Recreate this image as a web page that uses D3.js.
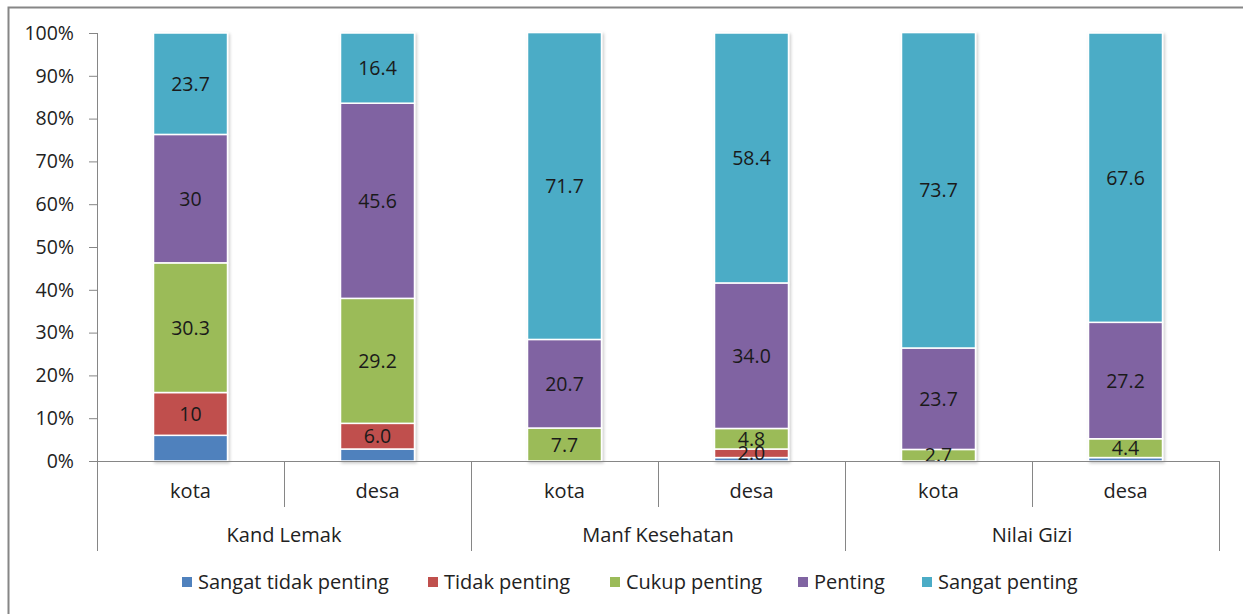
<!DOCTYPE html>
<html>
<head>
<meta charset="utf-8">
<script src="https://cdn.jsdelivr.net/npm/d3@7"></script>
<style>
body { margin: 0; background: #fff; }
svg { font-family: "Open Sans", Lato, sans-serif; }
</style>
</head>
<body>
<svg id="chart" width="1243" height="614"></svg>
<script>
// groups and sub categories on the x axis
var groups = ["Kand Lemak", "Manf Kesehatan", "Nilai Gizi"];
var subs = ["kota", "desa"];
var series = ["Sangat tidak penting", "Tidak penting", "Cukup penting", "Penting", "Sangat penting"];
var colors = ["#4F81BD", "#C0504D", "#9BBB59", "#8064A2", "#4BACC6"];

// values per series, in bar order: KL kota, KL desa, MK kota, MK desa, NG kota, NG desa
var sangatTidak = [6.0, 2.8, 0, 0.8, 0, 0.8];
var tidak = [10, 6.0, 0, 2.0, 0, 0];
var cukup = [30.3, 29.2, 7.7, 4.8, 2.7, 4.4];
var penting = [30, 45.6, 20.7, 34.0, 23.7, 27.2];
var sangat = [23.7, 16.4, 71.7, 58.4, 73.7, 67.6];

// data labels as shown (blank = no label)
var lblSangatTidak = ["", "", "", "", "", ""];
var lblTidak = ["10", "6.0", "", "2.0", "", ""];
var lblCukup = ["30.3", "29.2", "7.7", "4.8", "2.7", "4.4"];
var lblPenting = ["30", "45.6", "20.7", "34.0", "23.7", "27.2"];
var lblSangat = ["23.7", "16.4", "71.7", "58.4", "73.7", "67.6"];

var yTicks = [0, 10, 20, 30, 40, 50, 60, 70, 80, 90, 100];

var allValues = [sangatTidak, tidak, cukup, penting, sangat];
var allLabels = [lblSangatTidak, lblTidak, lblCukup, lblPenting, lblSangat];

var svg = d3.select("#chart");

// outer frame (left and top edges visible)
svg.append("path")
    .attr("d", "M8.5,614 L8.5,7.5 L1243,7.5")
    .attr("fill", "none")
    .attr("stroke", "#868686")
    .attr("stroke-width", 2);

var plotL = 97, plotR = 1219, plotT = 33, plotB = 461;

// one key per bar
var bars = [];
groups.forEach(function(g) {
    subs.forEach(function(s) { bars.push(g + "|" + s); });
});

var x = d3.scaleBand().domain(bars).range([plotL, plotR]);
var y = d3.scaleLinear().domain([0, 100]).range([plotB, plotT]);
var barW = 74;

// stacked rows
var rows = bars.map(function(b, i) {
    var r = { key: b };
    series.forEach(function(s, j) { r[s] = allValues[j][i]; });
    return r;
});
var stack = d3.stack().keys(series)(rows);

var defs = svg.append("defs");
var f = defs.append("filter").attr("id", "shadow").attr("x", "-20%").attr("y", "-5%").attr("width", "140%").attr("height", "110%");
f.append("feDropShadow").attr("dx", 1.5).attr("dy", 1.5).attr("stdDeviation", 1.5).attr("flood-color", "#000").attr("flood-opacity", 0.22);

// bars
var layer = svg.append("g").attr("filter", "url(#shadow)");
stack.forEach(function(st, j) {
    layer.selectAll(null)
        .data(st.filter(function(d) { return d[1] - d[0] > 0; }))
        .enter()
        .append("rect")
        .attr("x", function(d) { return x(d.data.key) + (x.bandwidth() - barW) / 2; })
        .attr("y", function(d) { return y(d[1]); })
        .attr("width", barW)
        .attr("height", function(d) { return y(d[0]) - y(d[1]); })
        .attr("fill", colors[j])
        .attr("stroke", "#fff")
        .attr("stroke-width", 1.5);
});

// data labels
stack.forEach(function(st, j) {
    svg.selectAll(null)
        .data(st)
        .enter()
        .append("text")
        .attr("x", function(d) { return x(d.data.key) + x.bandwidth() / 2; })
        .attr("y", function(d) { return (y(d[0]) + y(d[1])) / 2; })
        .attr("dy", "0.36em")
        .attr("text-anchor", "middle")
        .attr("font-size", 19.5)
        .attr("fill", "#1a1a1a")
        .text(function(d, i) { return allLabels[j][i]; });
});

// y axis
var yAxis = d3.axisLeft(y).tickValues(yTicks).tickSize(8).tickFormat(function(d) { return d + "%"; });
var ya = svg.append("g").attr("transform", "translate(" + plotL + ",0)").call(yAxis);
ya.select(".domain").attr("stroke", "#868686").attr("d", "M0.5," + plotT + "V" + plotB);
ya.selectAll(".tick line").attr("stroke", "#868686");
ya.selectAll(".tick text")
    .attr("font-size", 19.5)
    .attr("fill", "#222")
    .attr("font-family", "'Open Sans', sans-serif")
    .attr("x", -23);

// x axis base line
svg.append("line")
    .attr("x1", plotL - 8).attr("x2", plotR)
    .attr("y1", plotB + 0.5).attr("y2", plotB + 0.5)
    .attr("stroke", "#868686");

// sub category dividers and labels
bars.forEach(function(b, i) {
    var x0 = x(b);
    var isGroupEdge = i % 2 === 0;
    svg.append("line")
        .attr("x1", x0 + 0.5).attr("x2", x0 + 0.5)
        .attr("y1", plotB).attr("y2", isGroupEdge ? 551 : 507)
        .attr("stroke", "#868686");
    svg.append("text")
        .attr("x", x0 + x.bandwidth() / 2)
        .attr("y", 498)
        .attr("text-anchor", "middle")
        .attr("font-size", 20)
        .attr("fill", "#222")
        .text(b.split("|")[1]);
});
svg.append("line")
    .attr("x1", plotR + 0.5).attr("x2", plotR + 0.5)
    .attr("y1", plotB).attr("y2", 551)
    .attr("stroke", "#868686");

// group labels
groups.forEach(function(g, i) {
    svg.append("text")
        .attr("x", x(bars[i * 2]) + x.bandwidth())
        .attr("y", 542)
        .attr("text-anchor", "middle")
        .attr("font-size", 20)
        .attr("fill", "#222")
        .text(g);
});

// legend
var legendX = [182, 428, 610, 798, 922];
var legend = svg.selectAll(".legend")
    .data(series)
    .enter()
    .append("g")
    .attr("class", "legend")
    .attr("transform", function(d, i) { return "translate(" + legendX[i] + ",577)"; });
legend.append("rect")
    .attr("width", 10).attr("height", 10)
    .attr("fill", function(d, i) { return colors[i]; });
legend.append("text")
    .attr("x", 16).attr("y", 5)
    .attr("dy", "0.36em")
    .attr("font-size", 20)
    .attr("fill", "#222")
    .text(function(d) { return d; });
</script>
</body>
</html>
